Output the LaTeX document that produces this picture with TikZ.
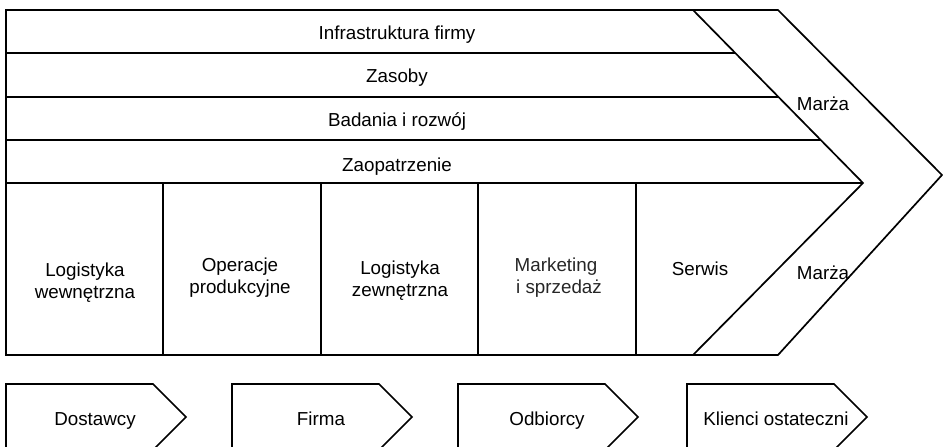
\documentclass[tikz,border=0pt]{standalone}
\usepackage{fontspec}
\setmainfont{Liberation Sans}
\begin{document}
\begin{tikzpicture}[x=1pt, y=-1pt, line width=1.7pt, line join=miter,
    txt/.style={font=\fontsize{18.8}{22}\selectfont, align=center, inner sep=0pt},
    one/.style={txt, text height=13pt, text depth=4pt, yshift=-2.5pt}]
    \useasboundingbox (0,0) rectangle (943,447);

    % Obrys łańcucha wartości
    \coordinate (lt) at (6,10);
    \coordinate (lb) at (6,355);
    \coordinate (it) at (693,10);
    \coordinate (tip) at (863,183);
    \coordinate (ib) at (693,355);
    \draw (lt) -- (778,10) -- (942,175) -- (778,355) -- (lb) -- cycle;
    \draw (it) -- (tip) -- (ib);

    % Działania wspierające
    \foreach \y in {53,97,140}
        \draw (6,\y) -- ({693+(\y-10)/173*170},\y);
    \draw (6,183) -- (tip);

    % Działania podstawowe
    \foreach \x in {163,321,478,636}
        \draw (\x,183) -- (\x,355);

    \node[one] (infra) at (397,32) {Infrastruktura firmy};
    \node[one] (zasoby) at (397,75) {Zasoby};
    \node[one] (badania) at (397,119) {Badania i rozwój};
    \node[one] (zaopatrz) at (397,164) {Zaopatrzenie};

    \node[txt] (logwew) at (85,283) {Logistyka\\wewnętrzna};
    \node[txt] (operacje) at (240,278) {Operacje\\produkcyjne};
    \node[txt] (logzew) at (400,281) {Logistyka\\zewnętrzna};
    \node[txt, text=black!85] (marketing) at (556,278) {Marketing\\\hspace*{6pt}i sprzedaż};
    \node[one] (serwis) at (700,268) {Serwis};

    \node[one] (marza1) at (823,103) {Marża};
    \node[one] (marza2) at (823,272) {Marża};

    % System wartości
    \foreach \x/\n/\t in {6/dost/Dostawcy, 232/firma/Firma, 458/odb/Odbiorcy, 687/klienci/Klienci ostateczni}{
        \draw (\x,384) -- ++(147,0) -- ++(33,33) -- ++(-33,33) -- ++(-147,0) -- cycle;
        \node[one] (\n) at (\x+89,418) {\t};
    }
\end{tikzpicture}
\end{document}
